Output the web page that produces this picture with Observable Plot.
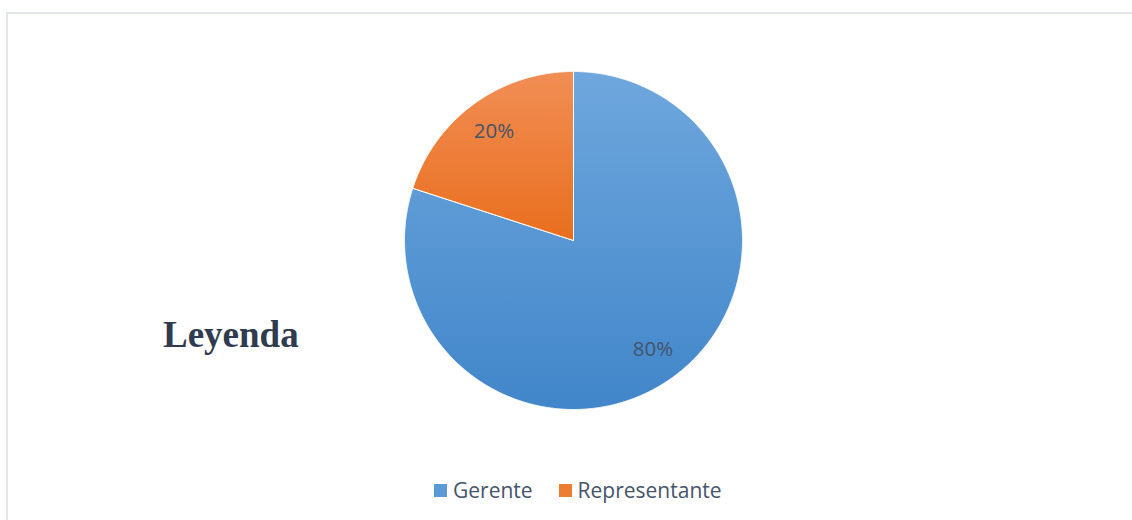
<!DOCTYPE html>
<html>
<head>
<meta charset="utf-8">
<script src="https://cdn.jsdelivr.net/npm/d3@7"></script>
<script src="https://cdn.jsdelivr.net/npm/@observablehq/plot@0.6"></script>
<style>
  html, body { margin: 0; padding: 0; background: #fff; }
  #wrap { position: relative; width: 1132px; height: 520px; overflow: hidden; background: #fff; }
  #frame { position: absolute; left: 6px; top: 12px; width: 1140px; height: 520px;
           border-top: 2px solid #e2e6eb; border-left: 2px solid #e2e6eb; }
  #chart { position: absolute; left: 0; top: 0; }
  #leyenda { position: absolute; left: 163px; top: 316px; font-family: "Liberation Serif", "Times New Roman", serif;
             font-weight: bold; font-size: 37px; color: #2f3b4e; line-height: 1; }
  #legend { position: absolute; left: 434px; top: 476px; }
  .lg-swatches { font-family: "Open Sans", sans-serif !important; font-size: 21px !important; color: #44546a !important;
                 min-height: 0 !important; margin: 0 !important; display: flex !important; align-items: center !important; }
  .lg-swatch { font-size: 21px !important; margin-right: 26px !important; display: inline-flex !important; align-items: center !important; }
  .lg-swatch > svg { margin-right: 6px !important; }
</style>
</head>
<body>
<div id="wrap">
  <div id="frame"></div>
  <div id="chart"></div>
  <div id="leyenda">Leyenda</div>
  <div id="legend"></div>
</div>
<script>
const categories = ["Gerente", "Representante"];
const values = [80, 20];
const labels = ["80%", "20%"];
const swatchColors = ["#5b9bd5", "#ed7d31"];

const gradTop = ["#6ea7dd", "#f18e55"];
const gradBottom = ["#4186ca", "#e96e1d"];

const arcs = d3.pie().sort(null).value(d => d)(values);
const rows = [];
arcs.forEach((a, i) => {
  rows.push({k: i, x: 0, y: 0});
  const n = Math.ceil((a.endAngle - a.startAngle) / 0.004);
  for (let j = 0; j <= n; j++) {
    const t = a.startAngle + (a.endAngle - a.startAngle) * j / n;
    rows.push({k: i, x: Math.sin(t), y: Math.cos(t)});
  }
  rows.push({k: i, x: 0, y: 0});
});
const labelRows = arcs.map((a, i) => {
  const t = (a.startAngle + a.endAngle) / 2;
  return {x: 0.8 * Math.sin(t), y: 0.8 * Math.cos(t), text: labels[i]};
});

const defs = () => {
  const g = d3.create("svg:defs");
  categories.forEach((c, i) => {
    const lg = g.append("linearGradient").attr("id", "grad" + i)
      .attr("x1", 0).attr("y1", 0).attr("x2", 0).attr("y2", 1);
    lg.append("stop").attr("offset", "0%").attr("stop-color", gradTop[i]);
    lg.append("stop").attr("offset", "100%").attr("stop-color", gradBottom[i]);
  });
  return g.node();
};

const plot = Plot.plot({
  width: 1132,
  height: 520,
  margin: 0,
  x: {domain: [-1, 1], range: [404, 742], axis: null},
  y: {domain: [-1, 1], range: [409, 71], axis: null},
  style: {background: "transparent", overflow: "visible"},
  marks: [
    defs,
    ...categories.map((c, i) => Plot.line(rows.filter(r => r.k === i), {
      x: "x", y: "y", fill: `url(#grad${i})`, stroke: "white", strokeWidth: 1, curve: "linear"
    })),
    Plot.text(labelRows, {
      x: "x", y: "y", text: "text", fill: "#44546a", fontSize: 20.5,
      fontFamily: "Open Sans, sans-serif"
    })
  ]
});
document.getElementById("chart").appendChild(plot);

const legend = Plot.legend({
  color: {type: "ordinal", domain: categories, range: swatchColors},
  legend: "swatches",
  swatchSize: 13,
  className: "lg"
});
document.getElementById("legend").appendChild(legend);
</script>
</body>
</html>
